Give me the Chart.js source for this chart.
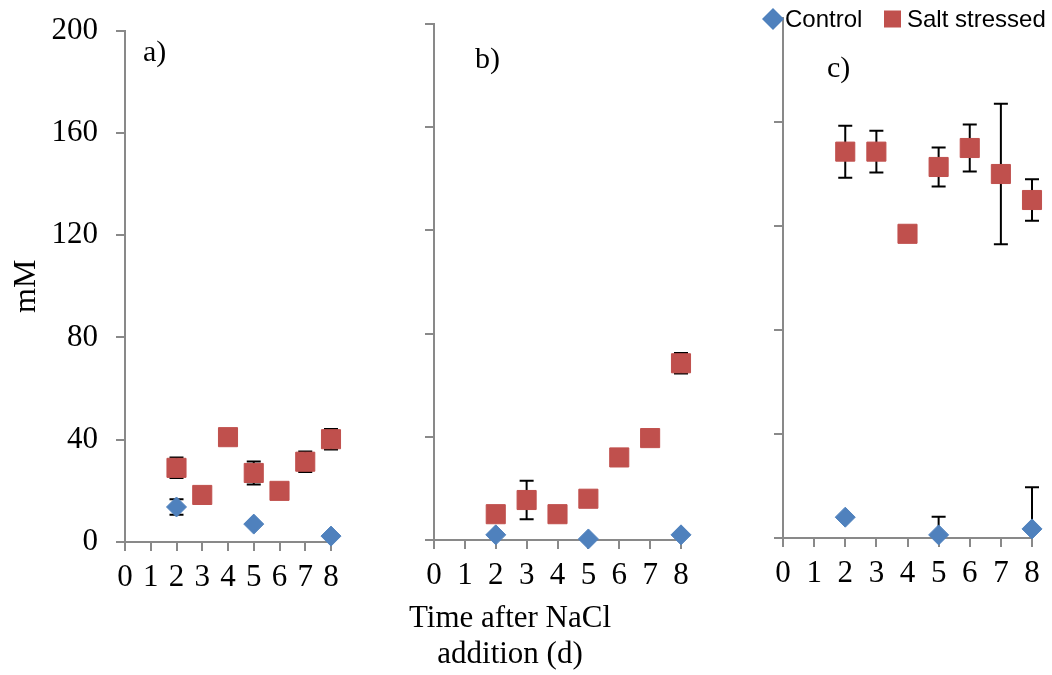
<!DOCTYPE html>
<html>
<head>
<meta charset="utf-8">
<script src="https://cdn.jsdelivr.net/npm/chart.js@4/dist/chart.umd.min.js"></script>
<style>
  html, body { margin: 0; padding: 0; background: #fff; }
  #wrap { position: relative; width: 1052px; height: 675px; overflow: hidden; }
  .panel { position: absolute; top: 0; }
</style>
</head>
<body>
<div id="wrap">
  <canvas id="chartA" class="panel" style="left:0;top:-6px" width="360" height="675"></canvas>
  <canvas id="chartB" class="panel" style="left:360px" width="340" height="675"></canvas>
  <canvas id="chartC" class="panel" style="left:700px" width="352" height="675"></canvas>
</div>
<script>
// days sampled
const saltDays = [2, 3, 4, 5, 6, 7, 8];
const controlDays = [2, 5, 8];
const xTickValues = [0, 1, 2, 3, 4, 5, 6, 7, 8];
const yTickValues = [0, 40, 80, 120, 160, 200];

// a)
const saltA = [29, 18.4, 41, 27, 20, 31.4, 40.2];
const saltAErr = [4, 0, 0, 4.5, 0, 4, 4];
const controlA = [13.7, 7, 2.3];
const controlAErr = [3, 0, 0];

// b)
const saltB = [10, 15.5, 10, 16, 32, 39.5, 68.5];
const saltBErr = [0, 7.5, 0, 0, 0, 0, 4];
const controlB = [2, 0.4, 2];
const controlBErr = [0, 0, 0];

// c)
const saltC = [148.6, 148.6, 117, 142.7, 150, 140, 130];
const saltCErr = [10, 8, 0, 7.5, 9, 27, 8];
const controlC = [8, 1.2, 3.5];
const controlCErr = [0, 7, 16];

const serif = "'Liberation Serif', 'Times New Roman', serif";
const sans = "'Liberation Sans', Arial, sans-serif";
const blue = '#4F81BD';
const red = '#C0504D';
const axisGrey = '#898989';

// error bars under the markers
const errorBars = {
  id: 'errorBars',
  beforeDatasetsDraw(chart) {
    const ctx = chart.ctx, a = chart.chartArea, ys = chart.scales.y;
    ctx.save();
    ctx.beginPath();
    ctx.rect(a.left, a.top, a.right - a.left + 20, a.bottom - a.top);
    ctx.clip();
    ctx.strokeStyle = '#000';
    ctx.lineWidth = 2;
    chart.data.datasets.forEach((ds, di) => {
      chart.getDatasetMeta(di).data.forEach((pt, i) => {
        const e = ds.errors[i];
        if (!e) return;
        const v = ds.data[i].y;
        const y1 = ys.getPixelForValue(v + e);
        const y2 = ys.getPixelForValue(v - e);
        ctx.beginPath();
        ctx.moveTo(pt.x, y1); ctx.lineTo(pt.x, y2);
        ctx.moveTo(pt.x - 7, y1); ctx.lineTo(pt.x + 7, y1);
        ctx.moveTo(pt.x - 7, y2); ctx.lineTo(pt.x + 7, y2);
        ctx.stroke();
      });
    });
    ctx.restore();
  }
};

// free text: panel letters and x title
function notes(items) {
  return {
    id: 'notes',
    afterDraw(chart) {
      const ctx = chart.ctx, a = chart.chartArea;
      items.forEach(it => {
        ctx.save();
        ctx.font = it.font;
        ctx.fillStyle = '#000';
        ctx.textAlign = it.align || 'left';
        ctx.textBaseline = 'alphabetic';
        ctx.fillText(it.text, a.left + it.dx, it.y);
        ctx.restore();
      });
    }
  };
}

// legend sitting on top of the c) axis
const topLegend = {
  id: 'topLegend',
  afterDraw(chart) {
    const ctx = chart.ctx, a = chart.chartArea;
    const cy = 19;
    const dsC = chart.data.datasets[0], dsS = chart.data.datasets[1];
    ctx.save();
    ctx.font = '24px ' + sans;
    ctx.textBaseline = 'middle';
    ctx.fillStyle = dsC.backgroundColor;
    let x = a.left - 10;
    ctx.beginPath();
    ctx.moveTo(x - 11, cy); ctx.lineTo(x, cy - 11); ctx.lineTo(x + 11, cy); ctx.lineTo(x, cy + 11);
    ctx.closePath(); ctx.fill();
    ctx.fillStyle = '#000';
    ctx.fillText(dsC.label, a.left + 2, cy + 1);
    ctx.fillStyle = dsS.backgroundColor;
    ctx.fillRect(a.left + 101, cy - 8.5, 17, 17);
    ctx.fillStyle = '#000';
    ctx.fillText(dsS.label, a.left + 124, cy + 1);
    ctx.restore();
  }
};

function makePanel(id, p) {
  const salt = saltDays.map((d, i) => ({ x: d, y: p.salt[i] }));
  const control = controlDays.map((d, i) => ({ x: d, y: p.control[i] }));
  return new Chart(document.getElementById(id), {
    type: 'scatter',
    data: {
      datasets: [
        { label: 'Control', data: control, errors: p.controlErr, pointStyle: 'rectRot', clip: false,
          pointRadius: 10, pointHoverRadius: 10, backgroundColor: blue, borderColor: blue, borderWidth: 1 },
        { label: 'Salt stressed', data: salt, errors: p.saltErr, pointStyle: 'rect', clip: false,
          pointRadius: 13.5, pointHoverRadius: 13.5, backgroundColor: red, borderColor: red, borderWidth: 1 }
      ]
    },
    options: {
      responsive: false,
      animation: false,
      devicePixelRatio: 1,
      layout: { padding: { top: p.top, right: p.right, left: 0, bottom: 0 } },
      plugins: { legend: { display: false }, tooltip: { enabled: false } },
      scales: {
        x: {
          type: 'linear', min: 0, max: 8,
          afterBuildTicks: s => { s.ticks = xTickValues.map(v => ({ value: v })); },
          afterFit: s => { s.height = p.xHeight; },
          grid: { drawOnChartArea: false, tickLength: 9, color: axisGrey, lineWidth: 2 },
          border: { color: axisGrey, width: 2 },
          ticks: { autoSkip: false, maxRotation: 0, padding: 8, color: '#000', font: { family: serif, size: 31 } }
        },
        y: {
          type: 'linear', min: 0, max: 200,
          afterBuildTicks: s => { s.ticks = yTickValues.map(v => ({ value: v })); },
          afterFit: s => { s.width = p.yWidth; },
          grid: { drawOnChartArea: false, tickLength: 9, color: axisGrey, lineWidth: 2 },
          border: { color: axisGrey, width: 2 },
          ticks: { display: p.yLabels, padding: 18, color: '#000', font: { family: serif, size: 31 } },
          title: { display: p.yLabels, text: 'mM', color: '#000', font: { family: serif, size: 32 }, padding: { top: 7 } }
        }
      }
    },
    plugins: [errorBars, notes(p.notes)].concat(p.extra || [])
  });
}

// canvas A sits 6px higher, so its numbers are in its own shifted frame
makePanel('chartA', {
  salt: saltA, saltErr: saltAErr, control: controlA, controlErr: controlAErr,
  yLabels: true, top: 25, right: 29, yWidth: 125, xHeight: 127,
  notes: [{ text: 'a)', dx: 18, y: 67, font: '30px ' + serif }]
});

makePanel('chartB', {
  salt: saltB, saltErr: saltBErr, control: controlB, controlErr: controlBErr,
  yLabels: false, top: 24, right: 19, yWidth: 74, xHeight: 135,
  notes: [
    { text: 'b)', dx: 41, y: 68, font: '30px ' + serif },
    { text: 'Time after NaCl', dx: 76, y: 627, font: '31px ' + serif, align: 'center' },
    { text: 'addition (d)', dx: 76, y: 663, font: '31px ' + serif, align: 'center' }
  ]
});

makePanel('chartC', {
  salt: saltC, saltErr: saltCErr, control: controlC, controlErr: controlCErr,
  yLabels: false, top: 18, right: 20, yWidth: 83, xHeight: 137,
  notes: [{ text: 'c)', dx: 44, y: 77, font: '30px ' + serif }],
  extra: [topLegend]
});
</script>
</body>
</html>
